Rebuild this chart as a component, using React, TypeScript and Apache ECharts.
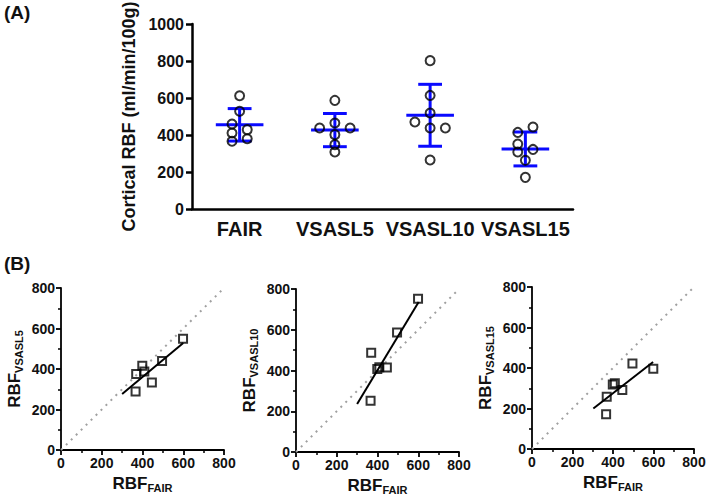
import React, { useEffect, useRef } from "react";
import * as echarts from "echarts";

// ---------- Panel A data ----------
const categories = ["FAIR", "VSASL5", "VSASL10", "VSASL15"];
const fairA = [612, 528, 459, 411, 429, 366, 380];
const vsasl5A = [587, 465, 438, 438, 402, 348, 308];
const vsasl10A = [802, 614, 519, 470, 438, 438, 265];
const vsasl15A = [443, 414, 351, 308, 322, 263, 171];
// horizontal jitter of each point within its category (category units)
const fairJitter = [0, 0, -0.08, -0.08, 0.08, -0.08, 0.08];
const vsasl5Jitter = [0, 0, -0.16, 0.16, 0, 0, 0];
const vsasl10Jitter = [0, 0, 0, -0.16, 0, 0.16, 0];
const vsasl15Jitter = [0.08, -0.08, -0.08, -0.08, 0.08, 0, 0];
const yTicksA = { min: 0, max: 1000, interval: 200 };

// ---------- Panel B data ----------
const fairX = [599, 496, 399, 409, 369, 446, 366];
const vsasl5Y = [549, 440, 416, 388, 375, 333, 289];
const vsasl10Y = [752, 587, 407, 416, 487, 415, 251];
const vsasl15Y = [396, 422, 318, 325, 258, 291, 171];
const fitVsasl5 = [[300, 277], [600, 528]];
const fitVsasl10 = [[300, 236], [602, 736]];
const fitVsasl15 = [[303, 200], [598, 430]];
const identity = [[0, 0], [800, 800]];
const ticksB = { min: 0, max: 800, interval: 200 };
const subLabels = ["VSASL5", "VSASL10", "VSASL15"];

function mean(a: number[]) {
  return a.reduce((s, v) => s + v, 0) / a.length;
}
function sd(a: number[]) {
  const m = mean(a);
  return Math.sqrt(a.reduce((s, v) => s + (v - m) * (v - m), 0) / (a.length - 1));
}

const FONT = "'Liberation Sans', Arial, Helvetica, sans-serif";

export default function App() {
  const ref = useRef<HTMLDivElement>(null);
  useEffect(() => {
    const chart = echarts.init(ref.current!, null, { renderer: "svg" });
    const groupsA = [fairA, vsasl5A, vsasl10A, vsasl15A];
    const jittersA = [fairJitter, vsasl5Jitter, vsasl10Jitter, vsasl15Jitter];
    const scatterA: number[][] = [];
    groupsA.forEach((g, i) =>
      g.forEach((v, j) => scatterA.push([i + jittersA[i][j], v]))
    );
    const errData = groupsA.map((g, i) => [i, mean(g), sd(g)]);

    const ysB = [vsasl5Y, vsasl10Y, vsasl15Y];
    const fitsB = [fitVsasl5, fitVsasl10, fitVsasl15];

    const gridBase = { outerBoundsMode: "none", containLabel: false };
    const grids: any[] = [
      { ...gridBase, left: 192, top: 24, width: 381, height: 185 },
      { ...gridBase, left: 61, top: 288, width: 163, height: 162 },
      { ...gridBase, left: 296, top: 289, width: 163, height: 163 },
      { ...gridBase, left: 532, top: 287, width: 162, height: 162 },
    ];

    const axLine = (w: number) => ({ onZero: false, lineStyle: { color: "#000", width: w } });

    const xAxes: any[] = [
      {
        type: "category",
        gridIndex: 0,
        position: "bottom",
        data: categories,
        axisLine: { show: true, ...axLine(2.5) },
        axisTick: { alignWithLabel: true, length: 6, lineStyle: { color: "#000", width: 2.5 } },
        axisLabel: { interval: 0, color: "#111", fontSize: 20, fontWeight: "bold", fontFamily: FONT, margin: 10 },
      },
      { type: "value", gridIndex: 0, min: -0.5, max: 3.5, show: false },
    ];
    const yAxes: any[] = [
      {
        type: "value",
        gridIndex: 0,
        position: "left",
        ...yTicksA,
        name: "Cortical RBF (ml/min/100g)",
        nameLocation: "middle",
        nameGap: 52,
        nameTextStyle: { color: "#111", fontSize: 18, fontWeight: "bold", fontFamily: FONT },
        axisLine: { show: true, ...axLine(2.5) },
        axisTick: { show: true, length: 6, lineStyle: { color: "#000", width: 2.5 } },
        splitLine: { show: false },
        axisLabel: {
          color: "#111",
          fontSize: 16,
          fontWeight: "bold",
          fontFamily: FONT,
          margin: 8,
          formatter: (v: number) => String(v),
        },
      },
    ];

    const series: any[] = [
      {
        type: "custom",
        xAxisIndex: 1,
        yAxisIndex: 0,
        data: errData,
        z: 2,
        renderItem: (_p: any, api: any) => {
          const x = api.value(0);
          const m = api.value(1);
          const s = api.value(2);
          const c = api.coord([x, m]);
          const t = api.coord([x, m + s]);
          const b = api.coord([x, m - s]);
          const half = api.size([0.25, 0])[0];
          const cap = api.size([0.125, 0])[0];
          const style = { stroke: "#0a0aff", lineWidth: 3 };
          return {
            type: "group",
            children: [
              { type: "line", shape: { x1: c[0] - half, y1: c[1], x2: c[0] + half, y2: c[1] }, style },
              { type: "line", shape: { x1: t[0], y1: t[1], x2: b[0], y2: b[1] }, style },
              { type: "line", shape: { x1: t[0] - cap, y1: t[1], x2: t[0] + cap, y2: t[1] }, style },
              { type: "line", shape: { x1: b[0] - cap, y1: b[1], x2: b[0] + cap, y2: b[1] }, style },
            ],
          };
        },
      },
      {
        type: "scatter",
        xAxisIndex: 1,
        yAxisIndex: 0,
        data: scatterA,
        symbol: "circle",
        symbolSize: 9,
        z: 3,
        itemStyle: { color: "rgba(0,0,0,0)", borderColor: "#000", borderWidth: 2 },
      },
    ];

    const bAxisCommon = {
      type: "value",
      ...ticksB,
      axisLine: { show: true, ...axLine(1.8) },
      axisTick: { show: true, length: 5, lineStyle: { color: "#000", width: 1.8 } },
      minorTick: { show: true, splitNumber: 2, length: 3, lineStyle: { color: "#000", width: 1.5 } },
      splitLine: { show: false },
      axisLabel: { color: "#111", fontSize: 14, fontWeight: "bold", fontFamily: FONT, margin: 6 },
      nameLocation: "middle",
    };
    const rich = () => ({
      a: { fontSize: 17, fontWeight: "bold", fontFamily: FONT, color: "#111" },
      b: { fontSize: 11, fontWeight: "bold", fontFamily: FONT, color: "#111", padding: [8, 0, 0, 0] },
    });

    for (let k = 0; k < 3; k++) {
      const gi = k + 1;
      xAxes.push({
        ...bAxisCommon,
        gridIndex: gi,
        position: "bottom",
        name: "{a|RBF}{b|FAIR}",
        nameGap: 24,
        nameTextStyle: { rich: rich() },
      });
      yAxes.push({
        ...bAxisCommon,
        gridIndex: gi,
        position: "left",
        name: "{a|RBF}{b|" + subLabels[k] + "}",
        nameGap: 37,
        nameTextStyle: { rich: rich() },
      });
      const xi = xAxes.length - 1;
      const yi = yAxes.length - 1;
      series.push({
        type: "line",
        xAxisIndex: xi,
        yAxisIndex: yi,
        data: identity,
        symbol: "none",
        lineStyle: { color: "#a0a0a0", width: 2, type: [2, 5] },
        z: 1,
      });
      series.push({
        type: "line",
        xAxisIndex: xi,
        yAxisIndex: yi,
        data: fitsB[k],
        symbol: "none",
        lineStyle: { color: "#000", width: 2 },
        z: 2,
      });
      series.push({
        type: "scatter",
        xAxisIndex: xi,
        yAxisIndex: yi,
        data: fairX.map((x, j) => [x, ysB[k][j]]),
        symbol: "rect",
        symbolSize: 8,
        z: 3,
        itemStyle: { color: "rgba(0,0,0,0)", borderColor: "#000", borderWidth: 2 },
      });
    }

    chart.setOption({
      animation: false,
      backgroundColor: "#fff",
      grid: grids,
      xAxis: xAxes,
      yAxis: yAxes,
      series,
      graphic: [
        {
          type: "text",
          left: 4,
          top: 3,
          style: { text: "(A)", fontSize: 19, fontWeight: "bold", fontFamily: FONT, fill: "#111" },
        },
        {
          type: "text",
          left: 4,
          top: 254,
          style: { text: "(B)", fontSize: 19, fontWeight: "bold", fontFamily: FONT, fill: "#111" },
        },
      ],
    });
    return () => chart.dispose();
  }, []);
  return (
    <div
      ref={ref}
      style={{ position: "absolute", left: 0, top: 0, width: 709, height: 500 }}
    />
  );
}
